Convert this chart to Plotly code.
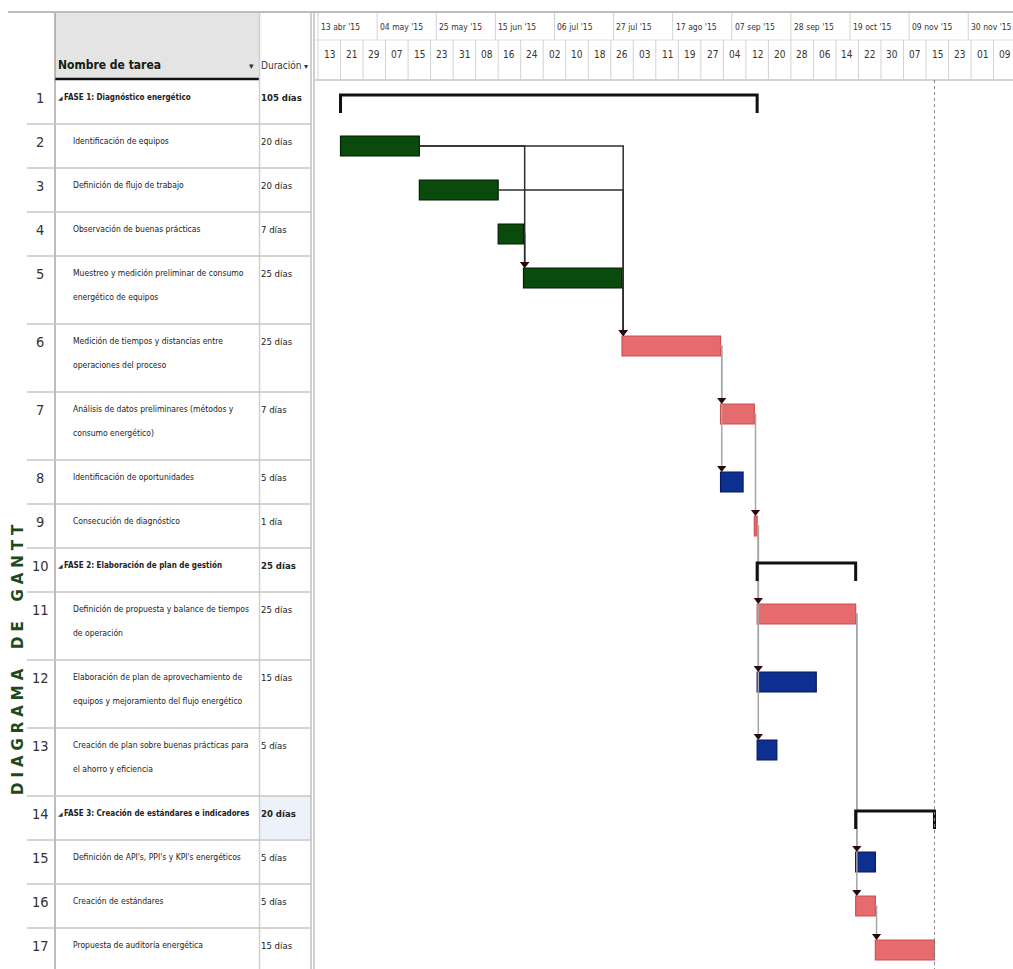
import numpy as np
import pandas as pd
import plotly.graph_objects as go

W, H = 1013, 969

# ---------------- project data ----------------
TASK_IDS = list(range(1, 18))
TASK_NAMES = [
    "FASE 1: Diagnóstico energético",
    "Identificación de equipos",
    "Definición de flujo de trabajo",
    "Observación de buenas prácticas",
    "Muestreo y medición preliminar de consumo\nenergético de equipos",
    "Medición de tiempos y distancias entre\noperaciones del proceso",
    "Análisis de datos preliminares (métodos y\nconsumo energético)",
    "Identificación de oportunidades",
    "Consecución de diagnóstico",
    "FASE 2: Elaboración de plan de gestión",
    "Definición de propuesta y balance de tiempos\nde operación",
    "Elaboración de plan de aprovechamiento de\nequipos y mejoramiento del flujo energético",
    "Creación de plan sobre buenas prácticas para\nel ahorro y eficiencia",
    "FASE 3: Creación de estándares e indicadores",
    "Definición de API's, PPI's y KPI's energéticos",
    "Creación de estándares",
    "Propuesta de auditoría energética",
]
DURATIONS = [105, 20, 20, 7, 25, 25, 7, 5, 1, 25, 25, 15, 5, 20, 5, 5, 15]
STARTS = [
    "2015-04-21", "2015-04-21", "2015-05-19", "2015-06-16", "2015-06-25",
    "2015-07-30", "2015-09-03", "2015-09-03", "2015-09-15", "2015-09-16",
    "2015-09-16", "2015-09-16", "2015-09-16", "2015-10-21", "2015-10-21",
    "2015-10-21", "2015-10-28",
]
BAR_KIND = ["summary", "green", "green", "green", "green", "red", "red", "blue",
            "red", "summary", "red", "blue", "blue", "summary", "blue", "red", "red"]
HOLIDAYS = ["2015-09-07"]
LINKS = [(2, 5), (2, 6), (3, 6), (4, 5), (5, 6), (6, 7), (6, 8), (7, 9),
         (9, 11), (9, 12), (9, 13), (11, 15), (11, 16), (16, 17)]

MAJOR_DATES = ["2015-04-13", "2015-05-04", "2015-05-25", "2015-06-15", "2015-07-06",
               "2015-07-27", "2015-08-17", "2015-09-07", "2015-09-28", "2015-10-19",
               "2015-11-09", "2015-11-30"]
MAJOR_LABELS = ["13 abr '15", "04 may '15", "25 may '15", "15 jun '15", "06 jul '15",
                "27 jul '15", "17 ago '15", "07 sep '15", "28 sep '15", "19 oct '15",
                "09 nov '15", "30 nov '15"]
MINOR_LABELS = ["13", "21", "29", "07", "15", "23", "31", "08", "16", "24", "02",
                "10", "18", "26", "03", "11", "19", "27", "04", "12", "20", "28",
                "06", "14", "22", "30", "07", "15", "23", "01", "09"]

# ---------------- derived schedule ----------------
start_d = np.array(STARTS, dtype="datetime64[D]")
end_d = np.busday_offset(start_d, DURATIONS, roll="forward", holidays=HOLIDAYS)
starts = pd.to_datetime(start_d)
ends = pd.to_datetime(end_d)

# ---------------- layout geometry (pixels) ----------------
HEADER_TOP, HEADER_BOTTOM = 12, 80
GANTT_LEFT = 315
ORIGIN_PX, PX_PER_DAY = 318.0, 2.815
ORIGIN = pd.Timestamp("2015-04-13")
x_lo = ORIGIN - pd.Timedelta(days=(ORIGIN_PX - GANTT_LEFT) / PX_PER_DAY)
x_hi = ORIGIN + pd.Timedelta(days=(W - ORIGIN_PX) / PX_PER_DAY)

lines_per_row = [len(n.split("\n")) for n in TASK_NAMES]
row_h = [44 if k == 1 else 68 for k in lines_per_row]
row_top = list(HEADER_BOTTOM + np.concatenate([[0], np.cumsum(row_h)[:-1]]))
bar_mid = [t + 22 for t in row_top]

SANS = "DejaVu Sans Condensed, Liberation Sans, sans-serif"
TXT = "#222222"

fig = go.Figure()
shapes, annots = [], []


def px(x, xref):
    return x / W if xref == "paper" else x


def hline(x0, x1, y, color, width=1, xref="paper", dash=None):
    shapes.append(dict(type="line", xref=xref, yref="y", x0=px(x0, xref), x1=px(x1, xref),
                       y0=y, y1=y, line=dict(color=color, width=width, dash=dash), layer="below"))


def vline(x, y0, y1, color, width=1, xref="paper", dash=None, layer="below"):
    shapes.append(dict(type="line", xref=xref, yref="y", x0=px(x, xref), x1=px(x, xref),
                       y0=y0, y1=y1, line=dict(color=color, width=width, dash=dash), layer=layer))


def text(x, y, s, size=11, color=TXT, xanchor="left", bold=False, family=SANS,
         xref="paper", angle=0):
    annots.append(dict(xref=xref, yref="y", x=px(x, xref), y=y,
                       text=f"<b>{s}</b>" if bold else s,
                       showarrow=False, xanchor=xanchor, yanchor="middle", textangle=angle,
                       font=dict(family=family, size=size, color=color)))


# ---------------- table header ----------------
hline(8, W, HEADER_TOP, "#bdbdbd", 2)
shapes.append(dict(type="rect", xref="paper", yref="y", x0=55 / W, x1=259 / W,
                   y0=HEADER_TOP + 1, y1=79, fillcolor="#e4e4e4",
                   line=dict(width=0), layer="below"))
hline(55, 259, 79, "#111111", 2.5)
text(56, 65, "Nombre de tarea", size=12, bold=True, color="#10200f")
text(256, 66, "▾", size=9, xanchor="right", color="#333", family="DejaVu Sans")
text(259, 65, "Duración", size=10, color="#333")
text(302, 66, "▾", size=8, color="#333", family="DejaVu Sans")

# highlighted duration cell of row 14
shapes.append(dict(type="rect", xref="paper", yref="y", x0=260 / W, x1=311 / W,
                   y0=row_top[13] + 1, y1=row_top[13] + row_h[13] - 1,
                   fillcolor="#edf1fa", line=dict(width=0), layer="below"))

# column borders
vline(55, HEADER_TOP + 1, H, "#7d7d7d", 1)
vline(259.5, HEADER_TOP + 1, H, "#cfcfcf", 1.5)
vline(311, HEADER_TOP + 1, H, "#a0a0a0", 1)
vline(314, HEADER_TOP + 1, H, "#a0a0a0", 1)

# row separators and row texts
for i, tid in enumerate(TASK_IDS):
    hline(27, 311, row_top[i] + row_h[i], "#c6c6c6", 1.5)
    text(40, row_top[i] + 18, str(tid), size=14.5, xanchor="center", color="#333")
    name_lines = TASK_NAMES[i].split("\n")
    if BAR_KIND[i] == "summary":
        text(56, row_top[i] + 17, "◢", size=6, color="#333", family="DejaVu Sans")
        text(62, row_top[i] + 17, name_lines[0], size=8, bold=True)
    else:
        for j, ln in enumerate(name_lines):
            text(71, row_top[i] + 17 + 24 * j, ln, size=8.5)
    dur = f"{DURATIONS[i]} día" if DURATIONS[i] == 1 else f"{DURATIONS[i]} días"
    text(259, row_top[i] + 17, dur, size=9.5, bold=BAR_KIND[i] == "summary")

# vertical title
title_txt = "\u2004".join("DIAGRAMA DE GANTT").replace("\u2004 \u2004", "\u2004\u2004\u2004\u2004")
text(18, 660, title_txt, size=15, bold=True, color="#1d4a1d", family="DejaVu Sans",
     xanchor="center", angle=-90)

# ---------------- timescale header ----------------
hline(GANTT_LEFT, W, 40, "#e2e2e2", 1)
hline(GANTT_LEFT, W, HEADER_BOTTOM, "#c6c6c6", 1.5)
for d, lab in zip(MAJOR_DATES, MAJOR_LABELS):
    vline(pd.Timestamp(d), HEADER_TOP + 1, 40, "#d2d2d2", 1, xref="x")
    text(pd.Timestamp(d) + pd.Timedelta(days=0.3), 27, lab, size=8.5, xref="x", color="#333")
minor_dates = pd.date_range("2015-04-13", periods=len(MINOR_LABELS), freq="8D")
for d, lab in zip(minor_dates, MINOR_LABELS):
    vline(d, 40, HEADER_BOTTOM, "#d2d2d2", 1, xref="x")
    text(d + pd.Timedelta(days=4), 54, lab, size=10, xref="x", xanchor="center", color="#333")

# project finish marker
vline(ends.max(), HEADER_BOTTOM, H, "#8a8a8a", 1, xref="x", dash="dot", layer="above")

# ---------------- dependency links ----------------
nudge = pd.Timedelta(hours=10)
arrow_x, arrow_y = [], []
for p, s in LINKS:
    pi, si = p - 1, s - 1
    xl = starts[si] + nudge
    y_tip = bar_mid[si] - 14
    col = "#2e2e2e" if BAR_KIND[pi] == "green" else "#a6a6a6"
    fig.add_trace(go.Scatter(x=[ends[pi], xl, xl], y=[bar_mid[pi], bar_mid[pi], y_tip],
                             mode="lines", line=dict(color=col, width=1.5),
                             hoverinfo="skip", showlegend=False))
    arrow_x.append(xl)
    arrow_y.append(y_tip)

# ---------------- bars ----------------
STYLE = {
    "green": ("#0b4a0d", "#021f03"),
    "red": ("#e56b6d", "#d24e52"),
    "blue": ("#0d2f90", "#06195a"),
}
for kind, (fill, edge) in STYLE.items():
    idx = [i for i, k in enumerate(BAR_KIND) if k == kind]
    fig.add_trace(go.Bar(
        orientation="h",
        base=[starts[i] for i in idx],
        x=[(ends[i] - starts[i]).total_seconds() * 1000 for i in idx],
        y=[bar_mid[i] for i in idx],
        width=20,
        marker=dict(color=fill, line=dict(color=edge, width=1.2)),
        hoverinfo="skip", showlegend=False,
    ))

# summary brackets
for i, k in enumerate(BAR_KIND):
    if k != "summary":
        continue
    top = row_top[i] + 15
    fig.add_trace(go.Scatter(x=[starts[i], starts[i], ends[i], ends[i]],
                             y=[top + 18, top, top, top + 18], mode="lines",
                             line=dict(color="#111111", width=3),
                             hoverinfo="skip", showlegend=False))

fig.add_trace(go.Scatter(x=arrow_x, y=arrow_y, mode="markers",
                         marker=dict(symbol="triangle-down", size=8, color="#2a0b0b"),
                         hoverinfo="skip", showlegend=False))

fig.update_layout(
    width=W, height=H,
    margin=dict(l=0, r=0, t=0, b=0),
    paper_bgcolor="white", plot_bgcolor="white",
    barmode="overlay",
    xaxis=dict(type="date", domain=[GANTT_LEFT / W, 1], range=[x_lo, x_hi],
               visible=False, fixedrange=True),
    yaxis=dict(domain=[0, 1], range=[H, 0], visible=False, fixedrange=True),
    shapes=shapes,
    annotations=annots,
)

fig.write_html("out.html")
